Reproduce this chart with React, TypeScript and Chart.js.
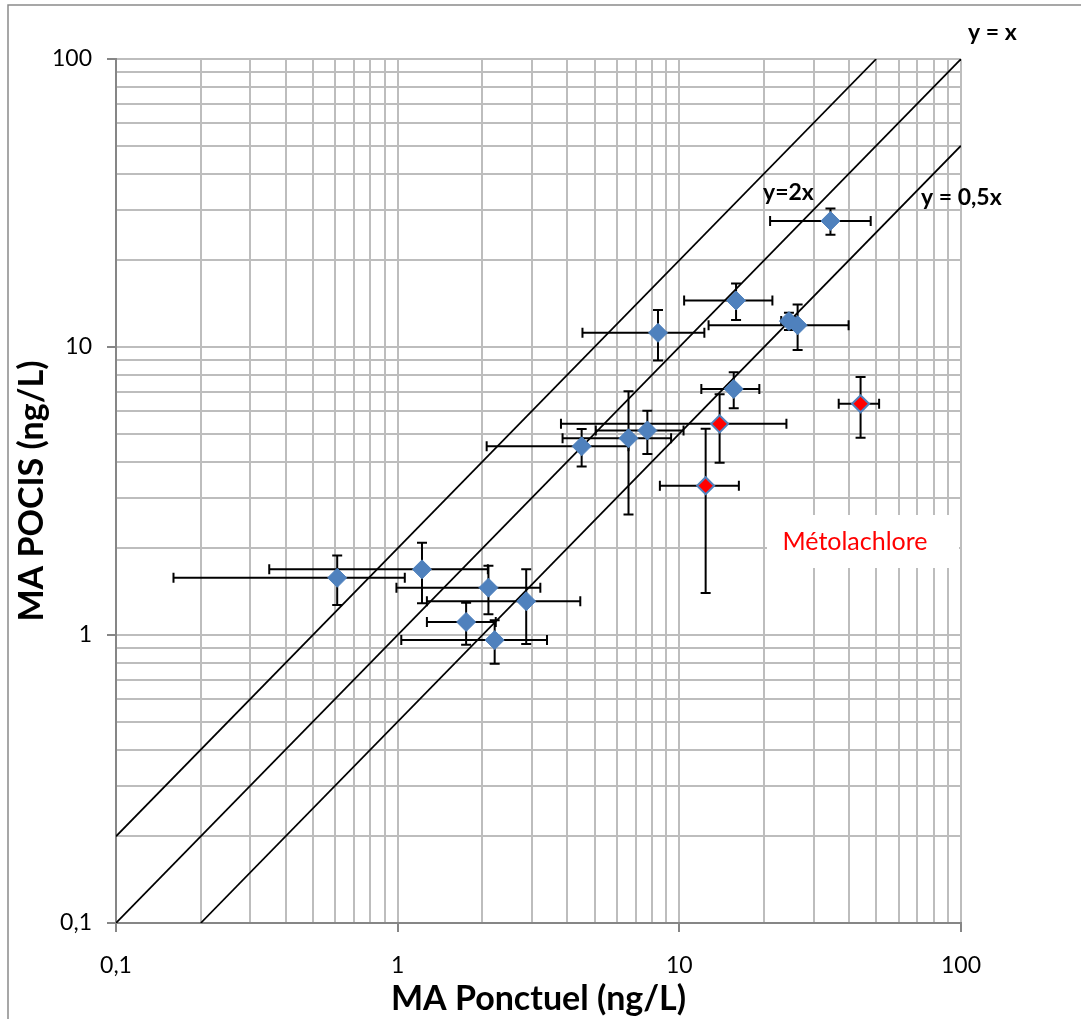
import React, { useEffect, useRef } from 'react';
import { Chart, registerables } from 'chart.js';

Chart.register(...registerables);

// Compounds measured by spot sampling (x) and by POCIS (y), ng/L
const ponctuel = [0.61, 1.22, 2.1, 2.86, 1.75, 2.21, 4.5, 6.6, 7.7, 8.4, 15.9, 24.5, 26.3, 15.6, 34.4];
const pocis = [1.58, 1.69, 1.46, 1.31, 1.11, 0.96, 4.52, 4.82, 5.13, 11.2, 14.5, 12.3, 11.9, 7.15, 27.4];
const ponctuelErrMinus = [0.45, 0.87, 1.11, 1.59, 0.48, 1.18, 2.43, 2.75, 2.65, 3.87, 5.5, 1.5, 13.6, 3.63, 13.4];
const ponctuelErrPlus = [0.45, 0.87, 1.11, 1.59, 0.48, 1.18, 2.1, 2.75, 2.65, 3.87, 5.5, 1.5, 13.6, 3.63, 13.4];
const pocisErr = [0.31, 0.4, 0.28, 0.38, 0.185, 0.165, 0.67, 2.2, 0.88, 2.23, 2.1, 0.85, 2.14, 1.02, 2.85];

// Métolachlore
const metoPonctuel = [13.9, 44.0, 12.4];
const metoPocis = [5.41, 6.35, 3.3];
const metoPonctuelErr = [10.1, 7.2, 3.87];
const metoPocisErr = [1.45, 1.51, 1.9];

// Reference lines y = k·x
const ratios = [1, 2, 0.5];
const ratioLabels = ['y = x', 'y=2x', 'y = 0,5x'];

// Axis range and grid values (1..9 per decade)
const axisMin = 0.1;
const axisMax = 100;
const decadeStarts = [0.1, 1, 10];
const multipliers = [1, 2, 3, 4, 5, 6, 7, 8, 9];

const xTitle = 'MA Ponctuel (ng/L)';
const yTitle = 'MA POCIS (ng/L)';
const metoLabel = 'Métolachlore';

const FONT = 'Lato, "Open Sans", sans-serif';
const BLUE = '#4F81BD';
const AXIS_GRAY = '#868686';
const GRID_GRAY = '#bdbdbd';

const gridValues = [...decadeStarts.flatMap((d) => multipliers.map((m) => m * d)), axisMax];

const isDecade = (v: number) => Math.abs(Math.log10(v) - Math.round(Math.log10(v))) < 1e-6;
const fmt = (v: number) => (v < 1 ? String(Math.round(v * 10) / 10).replace('.', ',') : String(Math.round(v)));

type Err = { xm: number; xp: number; y: number };

const blueErrors: Err[] = ponctuel.map((_, i) => ({ xm: ponctuelErrMinus[i], xp: ponctuelErrPlus[i], y: pocisErr[i] }));
const redErrors: Err[] = metoPonctuel.map((_, i) => ({ xm: metoPonctuelErr[i], xp: metoPonctuelErr[i], y: metoPocisErr[i] }));

const CAP = 5;

const errorBarPlugin = {
  id: 'errorBars',
  beforeDatasetDraw(chart: any, args: any) {
    // draw every error bar just before the first marker dataset, so markers sit on top
    const ds = chart.data.datasets[args.index];
    if (!ds.firstMarkers) return;
    const xs = chart.scales.x;
    const ys = chart.scales.y;
    const ctx = chart.ctx;
    ctx.save();
    ctx.strokeStyle = '#000';
    ctx.lineWidth = 2;
    chart.data.datasets.forEach((d: any) => {
      if (!d.errors) return;
      d.data.forEach((p: any, i: number) => {
        const e: Err = d.errors[i];
        const cx = xs.getPixelForValue(p.x);
        const cy = ys.getPixelForValue(p.y);
        const x0 = xs.getPixelForValue(p.x - e.xm);
        const x1 = xs.getPixelForValue(p.x + e.xp);
        const y0 = ys.getPixelForValue(p.y - e.y);
        const y1 = ys.getPixelForValue(p.y + e.y);
        ctx.beginPath();
        ctx.moveTo(x0, cy);
        ctx.lineTo(x1, cy);
        ctx.moveTo(x0, cy - CAP);
        ctx.lineTo(x0, cy + CAP);
        ctx.moveTo(x1, cy - CAP);
        ctx.lineTo(x1, cy + CAP);
        ctx.moveTo(cx, y0);
        ctx.lineTo(cx, y1);
        ctx.moveTo(cx - CAP, y0);
        ctx.lineTo(cx + CAP, y0);
        ctx.moveTo(cx - CAP, y1);
        ctx.lineTo(cx + CAP, y1);
        ctx.stroke();
      });
    });
    ctx.restore();
  },
};

const annotationPlugin = {
  id: 'annotations',
  afterDraw(chart: any) {
    const ctx = chart.ctx;
    const { right, top } = chart.chartArea;
    ctx.save();
    // outer frame
    ctx.strokeStyle = '#8a8a8a';
    ctx.lineWidth = 1.5;
    ctx.beginPath();
    ctx.moveTo(8, chart.height);
    ctx.lineTo(8, 5);
    ctx.lineTo(chart.width, 5);
    ctx.stroke();

    // line labels
    ctx.fillStyle = '#000';
    ctx.font = `bold 23px ${FONT}`;
    ctx.textBaseline = 'alphabetic';
    ctx.textAlign = 'left';
    ctx.fillText(ratioLabels[0], right + 7, top - 19);
    ctx.fillText(ratioLabels[1], right - 198, top + 141);
    ctx.fillText(ratioLabels[2], right - 40, top + 146);

    // métolachlore legend box
    const bx = right - 194;
    const by = top + 456;
    ctx.fillStyle = '#ffffff';
    ctx.fillRect(bx, by, 192, 53);
    ctx.fillStyle = '#ff0000';
    ctx.font = `25px ${FONT}`;
    ctx.textAlign = 'center';
    ctx.fillText(metoLabel, bx + 88, by + 35);
    ctx.restore();
  },
};

export default function App() {
  const canvasRef = useRef<HTMLCanvasElement | null>(null);

  useEffect(() => {
    if (!canvasRef.current) return;

    const lineSets = ratios.map((k) => ({
      type: 'line' as const,
      data: [
        { x: Math.max(axisMin, axisMin / k), y: Math.max(axisMin, axisMin / k) * k },
        { x: Math.min(axisMax, axisMax / k), y: Math.min(axisMax, axisMax / k) * k },
      ],
      borderColor: '#000',
      borderWidth: 1.75,
      pointRadius: 0,
      fill: false,
      order: 3,
    }));

    const tickColor = (c: any) => (c.tick && isDecade(c.tick.value) ? AXIS_GRAY : 'rgba(0,0,0,0)');

    const chart = new Chart(canvasRef.current, {
      type: 'scatter',
      data: {
        datasets: [
          ...lineSets,
          {
            type: 'scatter',
            data: ponctuel.map((x, i) => ({ x, y: pocis[i] })),
            errors: blueErrors,
            firstMarkers: true,
            pointStyle: 'rectRot',
            pointRadius: 9.5,
            pointHoverRadius: 9.5,
            backgroundColor: BLUE,
            borderColor: BLUE,
            borderWidth: 1,
            order: 2,
          } as any,
          {
            type: 'scatter',
            data: metoPonctuel.map((x, i) => ({ x, y: metoPocis[i] })),
            errors: redErrors,
            pointStyle: 'rectRot',
            pointRadius: 8.5,
            pointHoverRadius: 8.5,
            backgroundColor: '#ff0000',
            borderColor: BLUE,
            borderWidth: 2,
            order: 1,
          } as any,
        ],
      },
      options: {
        responsive: false,
        animation: false,
        devicePixelRatio: 1,
        layout: { padding: { left: 0, top: 59, right: 120, bottom: 0 } },
        plugins: { legend: { display: false }, tooltip: { enabled: false } },
        scales: {
          x: {
            type: 'logarithmic',
            min: axisMin,
            max: axisMax,
            afterBuildTicks: (s: any) => {
              s.ticks = gridValues.map((v) => ({ value: v }));
            },
            afterFit: (s: any) => {
              s.height = 96;
            },
            ticks: {
              autoSkip: false,
              maxRotation: 0,
              padding: 20,
              color: '#000',
              font: { family: FONT, size: 23 },
              callback: (v: any) => (isDecade(Number(v)) ? fmt(Number(v)) : ''),
            },
            grid: { color: GRID_GRAY, lineWidth: 2, tickLength: 9, tickWidth: 2, tickColor },
            border: { color: AXIS_GRAY, width: 2 },
            title: {
              display: true,
              text: xTitle,
              color: '#000',
              font: { family: FONT, size: 34, weight: 'bold' },
              padding: { top: 0, bottom: 0 },
            },
          },
          y: {
            type: 'logarithmic',
            min: axisMin,
            max: axisMax,
            afterBuildTicks: (s: any) => {
              s.ticks = gridValues.map((v) => ({ value: v }));
            },
            afterFit: (s: any) => {
              s.width = 116;
            },
            ticks: {
              autoSkip: false,
              padding: 15,
              color: '#000',
              font: { family: FONT, size: 23 },
              callback: (v: any) => (isDecade(Number(v)) ? fmt(Number(v)) : ''),
            },
            grid: { color: GRID_GRAY, lineWidth: 2, tickLength: 9, tickWidth: 2, tickColor },
            border: { color: AXIS_GRAY, width: 2 },
            title: {
              display: true,
              text: yTitle,
              color: '#000',
              font: { family: FONT, size: 34, weight: 'bold' },
              padding: { top: 12, bottom: 0 },
            },
          },
        },
      } as any,
      plugins: [errorBarPlugin, annotationPlugin],
    });

    return () => chart.destroy();
  }, []);

  return (
    <div style={{ position: 'absolute', left: 0, top: 0, width: 1081, height: 1019, background: '#fff' }}>
      <canvas ref={canvasRef} width={1081} height={1019} style={{ display: 'block' }} />
    </div>
  );
}
